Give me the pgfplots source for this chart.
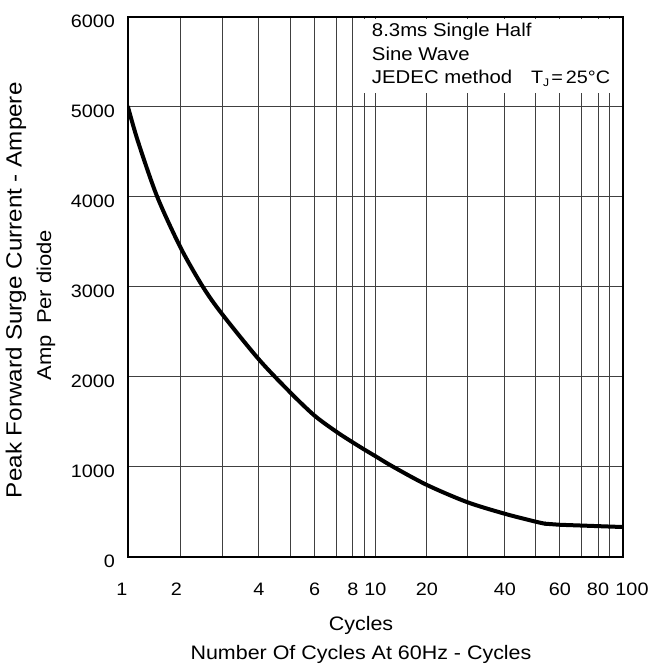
\documentclass[border=0pt]{standalone}
\usepackage{pgfplots}
\pgfplotsset{compat=1.18}
\usepackage{fontspec}
\setmainfont{Liberation Sans}[FakeStretch=1.1]
\begin{document}
\begin{tikzpicture}
\begin{axis}[
  at={(0pt,0pt)}, anchor=south west,
  scale only axis, width=495pt, height=540pt,
  xmin=0, xmax=2, ymin=0, ymax=6000,
  xtick={0,0.212,0.380,0.529,0.655,0.754,0.844,0.909,0.956,1,1.208,1.370,1.523,1.648,1.745,1.834,1.899,1.947,2},
  xticklabels={\hbox to 0pt{\hss 1\kern12pt\hss},\hbox to 0pt{\hss 2\kern8pt\hss},,4,,6,,8,,10,20,,40,,60,,80,,\hbox to 0pt{\hss\kern18pt 100\hss}},
  ytick={0,1000,2000,3000,4000,5000,6000},
  grid=major,
  major grid style={black!75, line width=1pt},
  axis line style={black, line width=1.3pt},
  major tick length=0pt,
  tick label style={font=\fontsize{18}{18}\selectfont, inner sep=0pt},
  /pgf/number format/assume math mode=true,
  /pgf/number format/1000 sep={},
  xticklabel style={anchor=center, yshift=-32pt},
  yticklabel style={anchor=east, xshift=-13pt, yshift=-4pt},
  xlabel={Cycles\\Number Of Cycles At 60Hz - Cycles},
  xlabel style={at={(axis description cs:0.4707,0)}, anchor=north, yshift=-59pt, inner sep=0pt, align=center, font=\fontsize{19.5}{29}\selectfont},
  ylabel={Peak Forward Surge Current - Ampere},
  ylabel style={at={(axis description cs:-0.2263,0.494)}, anchor=center, inner sep=0pt, font=\fontsize{22}{22}\selectfont},
]
\addplot[black, line width=4pt, smooth, line cap=round, line join=round] coordinates {
  (0,5000) (0.04,4620) (0.117,4010) (0.212,3440) (0.303,3000) (0.380,2700)
  (0.529,2195) (0.655,1830) (0.754,1570) (0.844,1388) (0.909,1272)
  (0.956,1192) (0.998,1123) (1.071,1003) (1.208,800) (1.370,610)
  (1.523,480) (1.648,392) (1.685,370)
};
\addplot[black, line width=4pt, line cap=round, line join=round] coordinates {
  (1.685,370) (1.745,358) (2.0,333)
};
\fill[white] (axis cs:0.93,5160) rectangle (axis cs:1.995,5975);
\node[anchor=base west, inner sep=0pt, font=\fontsize{18.5}{18.5}\selectfont] at (axis cs:0.985,5781) {8.3ms Single Half};
\node[anchor=base west, inner sep=0pt, font=\fontsize{18.5}{18.5}\selectfont] at (axis cs:0.985,5522) {Sine Wave};
\node[anchor=base west, inner sep=0pt, font=\fontsize{18.5}{18.5}\selectfont] at (axis cs:0.985,5256) {JEDEC method};
\node[anchor=base west, inner sep=0pt, font=\fontsize{18}{18}\selectfont] at (axis cs:1.628,5256) {T\raisebox{-3pt}{\fontsize{11}{11}\selectfont J}\kern2pt=\kern3pt25°C};
\end{axis}
\node[rotate=90, anchor=center, inner sep=0pt, font=\fontsize{20}{20}\selectfont] at (-82pt,252pt) {Amp\hspace{11pt}Per diode};
\useasboundingbox (-128pt,-109pt) rectangle (521pt,557pt);
\end{tikzpicture}
\end{document}
